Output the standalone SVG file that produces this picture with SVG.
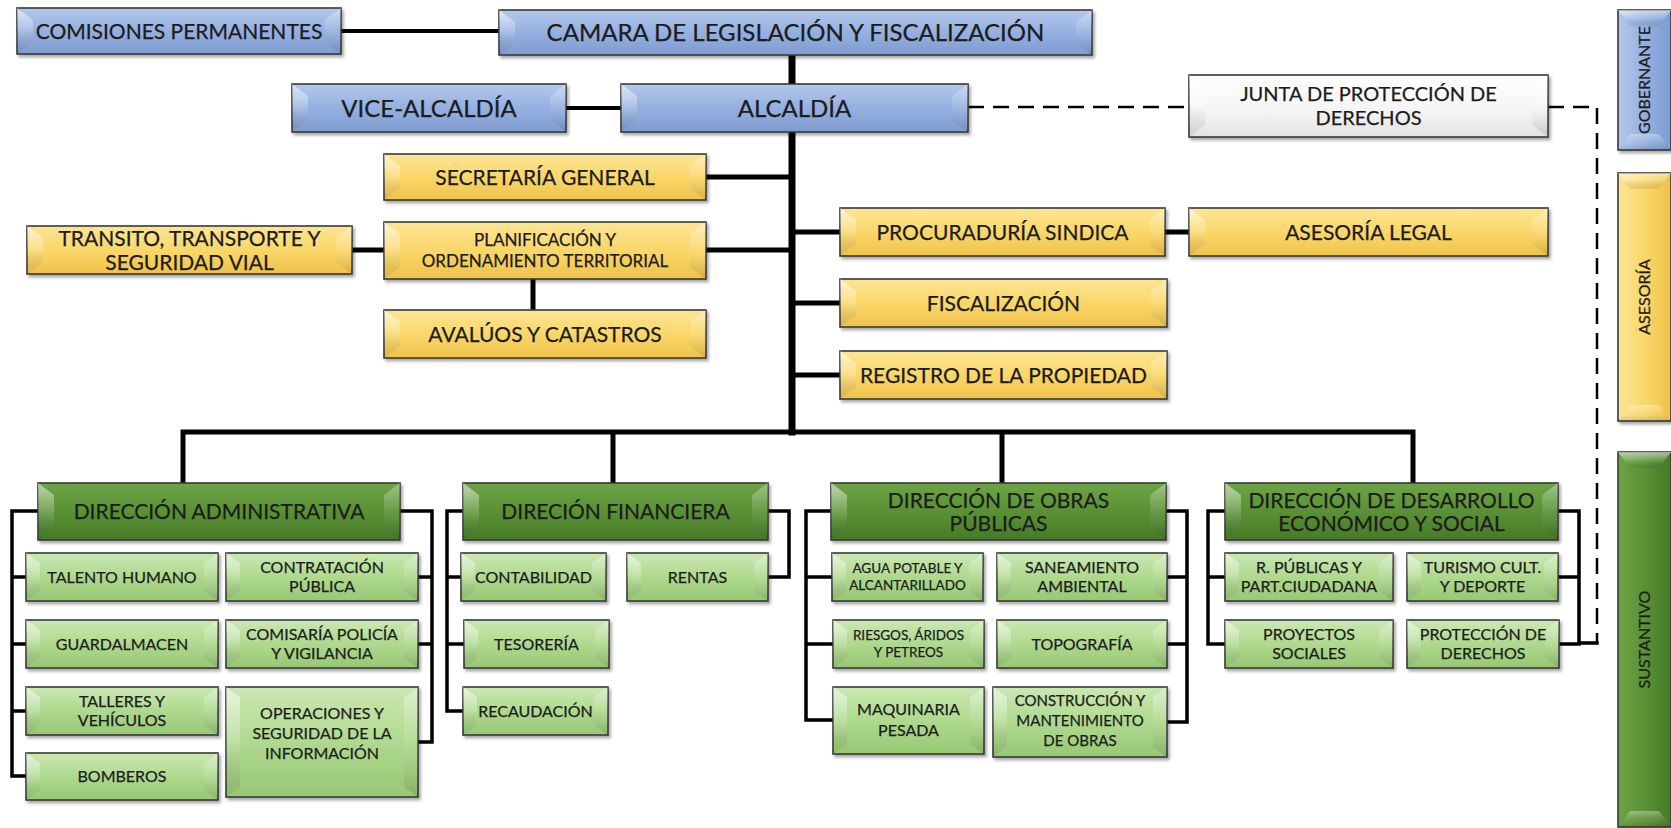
<svg xmlns="http://www.w3.org/2000/svg" width="1671" height="828" viewBox="0 0 1671 828">
<defs>
<linearGradient id="gBlue" x1="0" y1="0" x2="0" y2="1"><stop offset="0" stop-color="#b3c8ec"/><stop offset="0.5" stop-color="#95b0e0"/><stop offset="1" stop-color="#7f9bd0"/></linearGradient>
<linearGradient id="gBlueV" x1="0" y1="0" x2="1" y2="0"><stop offset="0" stop-color="#b3c8ec"/><stop offset="0.5" stop-color="#95b0e0"/><stop offset="1" stop-color="#7f9bd0"/></linearGradient>
<linearGradient id="gYel" x1="0" y1="0" x2="0" y2="1"><stop offset="0" stop-color="#fde595"/><stop offset="0.5" stop-color="#fad76a"/><stop offset="1" stop-color="#efc24a"/></linearGradient>
<linearGradient id="gYelV" x1="0" y1="0" x2="1" y2="0"><stop offset="0" stop-color="#fde595"/><stop offset="0.5" stop-color="#fad76a"/><stop offset="1" stop-color="#efc24a"/></linearGradient>
<linearGradient id="gDk" x1="0" y1="0" x2="0" y2="1"><stop offset="0" stop-color="#6da446"/><stop offset="0.5" stop-color="#5a9135"/><stop offset="1" stop-color="#477a28"/></linearGradient>
<linearGradient id="gDkV" x1="0" y1="0" x2="1" y2="0"><stop offset="0" stop-color="#6da446"/><stop offset="0.5" stop-color="#5a9135"/><stop offset="1" stop-color="#477a28"/></linearGradient>
<linearGradient id="gLt" x1="0" y1="0" x2="0" y2="1"><stop offset="0" stop-color="#cbe8b2"/><stop offset="0.5" stop-color="#afd98e"/><stop offset="1" stop-color="#97c774"/></linearGradient>
<linearGradient id="gWh" x1="0" y1="0" x2="0" y2="1"><stop offset="0" stop-color="#ffffff"/><stop offset="0.6" stop-color="#f4f4f4"/><stop offset="1" stop-color="#e2e2e2"/></linearGradient>
<linearGradient id="gFl" x1="0" y1="0" x2="0" y2="1"><stop offset="0" stop-color="#fff" stop-opacity="0.55"/><stop offset="0.5" stop-color="#fff" stop-opacity="0.18"/><stop offset="1" stop-color="#000" stop-opacity="0.06"/></linearGradient>
<linearGradient id="gFr" x1="0" y1="0" x2="0" y2="1"><stop offset="0" stop-color="#fff" stop-opacity="0.35"/><stop offset="0.5" stop-color="#fff" stop-opacity="0.08"/><stop offset="1" stop-color="#000" stop-opacity="0.12"/></linearGradient>
<filter id="sh" x="-5%" y="-20%" width="112%" height="150%"><feDropShadow dx="2" dy="2.5" stdDeviation="1.5" flood-color="#000" flood-opacity="0.35"/></filter>
</defs>
<style>
.bx{stroke:#3a3a3a;stroke-width:1.6;filter:url(#sh)}
.blue{fill:url(#gBlue)} .blueV{fill:url(#gBlueV)}
.yel{fill:url(#gYel)} .yelV{fill:url(#gYelV)}
.dk{fill:url(#gDk)} .dkV{fill:url(#gDkV)}
.lt{fill:url(#gLt)} .wh{fill:url(#gWh)}
.fl{fill:url(#gFl)} .fr{fill:url(#gFr)}
text{font-family:Lato,"Liberation Sans",sans-serif;fill:#1c1c1c;stroke:#1c1c1c;stroke-width:0.25;text-anchor:middle}
.t24{font-size:24px}.t21{font-size:21px}.t20{font-size:20px}.t17{font-size:17px}.t16{font-size:16px}.t15{font-size:15px}.t13{font-size:13.5px}
.c{fill:none;stroke:#000;stroke-linecap:square}
.k7{stroke-width:7}.k5{stroke-width:5}.k4{stroke-width:4}.k3{stroke-width:3.5}
.dash{fill:none;stroke:#000;stroke-width:2.5;stroke-dasharray:16 9}
</style>
<rect width="1671" height="828" fill="#fff"/>

<g id="connectors">
<path class="c k4" d="M341,31 H499"/>
<path class="c k7" d="M792,55 V84"/>
<path class="c k4" d="M566,108 H621"/>
<path class="c k7" d="M792,132 V432"/>
<path class="c k5" d="M706,177 H792 M706,250 H792 M352,250 H384 M533,279 V310 M792,232 H840 M1165,232 H1189 M792,303 H840 M792,375 H840"/>
<path class="c k5" d="M183,432 H1413 M183,432 V483 M613,432 V483 M1002,432 V483 M1413,432 V483"/>
<path class="c k3" d="M38,511 H12 V776 H26 M12,577 H26 M12,644 H26 M12,711 H26"/>
<path class="c k3" d="M400,511 H432 V742 H418 M418,577 H432 M418,644 H432"/>
<path class="c k3" d="M463,511 H447 V711 H463 M447,577 H461 M447,644 H464"/>
<path class="c k3" d="M768,511 H789 V577 H768"/>
<path class="c k3" d="M831,511 H806 V720 H833 M806,577 H832 M806,644 H833"/>
<path class="c k3" d="M1166,511 H1187 V722 H1167 M1167,577 H1187 M1167,644 H1187"/>
<path class="c k3" d="M1225,511 H1208 V644 H1225 M1208,577 H1225"/>
<path class="c k3" d="M1558,511 H1579 V644 H1559 M1558,577 H1579 M1579,643 H1597"/>
<path class="dash" d="M968,107 H1189"/>
<path class="dash" d="M1548,107 H1597 V643"/>
</g>

<g id="n-comisiones"><rect class="bx blue" x="17" y="8" width="324" height="46"/><path class="fl" d="M17,8 l16,12 v22 l-16,12 z"/><path class="fr" d="M341,8 l-16,12 v22 l16,12 z"/><text class="t21" x="179" y="38.5">COMISIONES PERMANENTES</text></g>
<g id="n-camara"><rect class="bx blue" x="499" y="10" width="593" height="45"/><path class="fl" d="M499,10 l16,12 v21 l-16,12 z"/><path class="fr" d="M1092,10 l-16,12 v21 l16,12 z"/><text class="t24" x="795.5" y="41">CAMARA DE LEGISLACIÓN Y FISCALIZACIÓN</text></g>
<g id="n-vice"><rect class="bx blue" x="292" y="84" width="274" height="48"/><path class="fl" d="M292,84 l16,12 v24 l-16,12 z"/><path class="fr" d="M566,84 l-16,12 v24 l16,12 z"/><text class="t24" x="429" y="116.5">VICE-ALCALDÍA</text></g>
<g id="n-alcaldia"><rect class="bx blue" x="621" y="84" width="347" height="48"/><path class="fl" d="M621,84 l16,12 v24 l-16,12 z"/><path class="fr" d="M968,84 l-16,12 v24 l16,12 z"/><text class="t24" x="794.5" y="116.5">ALCALDÍA</text></g>
<g id="n-junta"><rect class="bx wh" x="1189" y="75" width="359" height="62"/><path class="fl" d="M1189,75 l16,12 v38 l-16,12 z"/><path class="fr" d="M1548,75 l-16,12 v38 l16,12 z"/><text class="t20" x="1368.5" y="101">JUNTA DE PROTECCIÓN DE</text><text class="t20" x="1368.5" y="124.5">DERECHOS</text></g>

<g id="n-gobernante"><rect class="bx blueV" x="1618" y="10" width="53" height="140"/><path class="fl" d="M1618,10 h53 l-12,16 h-29 z"/><path class="fr" d="M1618,150 l12,-16 h29 l12,16 z"/><text class="t16" x="1644.5" y="85.5" transform="rotate(-90 1644.5 80)">GOBERNANTE</text></g>
<g id="n-asesoria"><rect class="bx yelV" x="1618" y="173" width="53" height="248"/><path class="fl" d="M1618,173 h53 l-12,16 h-29 z"/><path class="fr" d="M1618,421 l12,-16 h29 l12,16 z"/><text class="t16" x="1644.5" y="302.5" transform="rotate(-90 1644.5 297)">ASESORÍA</text></g>
<g id="n-sustantivo"><rect class="bx dkV" x="1618" y="452" width="53" height="375"/><path class="fl" d="M1618,452 h53 l-12,16 h-29 z"/><path class="fr" d="M1618,827 l12,-16 h29 l12,16 z"/><text class="t16" x="1644.5" y="645" transform="rotate(-90 1644.5 639.5)">SUSTANTIVO</text></g>

<g id="n-secretaria"><rect class="bx yel" x="384" y="154" width="322" height="46"/><path class="fl" d="M384,154 l16,12 v22 l-16,12 z"/><path class="fr" d="M706,154 l-16,12 v22 l16,12 z"/><text class="t21" x="545" y="184.5">SECRETARÍA GENERAL</text></g>
<g id="n-planificacion"><rect class="bx yel" x="384" y="222" width="322" height="57"/><path class="fl" d="M384,222 l16,12 v33 l-16,12 z"/><path class="fr" d="M706,222 l-16,12 v33 l16,12 z"/><text class="t17" x="545" y="246">PLANIFICACIÓN Y</text><text class="t17" x="545" y="267">ORDENAMIENTO TERRITORIAL</text></g>
<g id="n-transito"><rect class="bx yel" x="27" y="226" width="325" height="48"/><path class="fl" d="M27,226 l16,12 v24 l-16,12 z"/><path class="fr" d="M352,226 l-16,12 v24 l16,12 z"/><text class="t21" x="189.5" y="246">TRANSITO, TRANSPORTE Y</text><text class="t21" x="189.5" y="269.5">SEGURIDAD VIAL</text></g>
<g id="n-avaluos"><rect class="bx yel" x="384" y="310" width="322" height="48"/><path class="fl" d="M384,310 l16,12 v24 l-16,12 z"/><path class="fr" d="M706,310 l-16,12 v24 l16,12 z"/><text class="t21" x="545" y="341.5">AVALÚOS Y CATASTROS</text></g>
<g id="n-procuraduria"><rect class="bx yel" x="840" y="208" width="325" height="48"/><path class="fl" d="M840,208 l16,12 v24 l-16,12 z"/><path class="fr" d="M1165,208 l-16,12 v24 l16,12 z"/><text class="t21" x="1002.5" y="239.5">PROCURADURÍA SINDICA</text></g>
<g id="n-asesoria-legal"><rect class="bx yel" x="1189" y="208" width="359" height="48"/><path class="fl" d="M1189,208 l16,12 v24 l-16,12 z"/><path class="fr" d="M1548,208 l-16,12 v24 l16,12 z"/><text class="t21" x="1368.5" y="239.5">ASESORÍA LEGAL</text></g>
<g id="n-fiscalizacion"><rect class="bx yel" x="840" y="279" width="327" height="48"/><path class="fl" d="M840,279 l16,12 v24 l-16,12 z"/><path class="fr" d="M1167,279 l-16,12 v24 l16,12 z"/><text class="t21" x="1003.5" y="310.5">FISCALIZACIÓN</text></g>
<g id="n-registro"><rect class="bx yel" x="840" y="351" width="327" height="48"/><path class="fl" d="M840,351 l16,12 v24 l-16,12 z"/><path class="fr" d="M1167,351 l-16,12 v24 l16,12 z"/><text class="t21" x="1003.5" y="382.5">REGISTRO DE LA PROPIEDAD</text></g>

<g id="n-dir-admin"><rect class="bx dk" x="38" y="483" width="362" height="57"/><path class="fl" d="M38,483 l16,12 v33 l-16,12 z"/><path class="fr" d="M400,483 l-16,12 v33 l16,12 z"/><text class="t21" x="219" y="519">DIRECCIÓN ADMINISTRATIVA</text></g>
<g id="n-dir-fin"><rect class="bx dk" x="463" y="483" width="305" height="57"/><path class="fl" d="M463,483 l16,12 v33 l-16,12 z"/><path class="fr" d="M768,483 l-16,12 v33 l16,12 z"/><text class="t21" x="615.5" y="519">DIRECIÓN FINANCIERA</text></g>
<g id="n-dir-obras"><rect class="bx dk" x="831" y="483" width="335" height="57"/><path class="fl" d="M831,483 l16,12 v33 l-16,12 z"/><path class="fr" d="M1166,483 l-16,12 v33 l16,12 z"/><text class="t21" x="998.5" y="507.5">DIRECCIÓN DE OBRAS</text><text class="t21" x="998.5" y="530.5">PÚBLICAS</text></g>
<g id="n-dir-desarrollo"><rect class="bx dk" x="1225" y="483" width="333" height="57"/><path class="fl" d="M1225,483 l16,12 v33 l-16,12 z"/><path class="fr" d="M1558,483 l-16,12 v33 l16,12 z"/><text class="t21" x="1391.5" y="507.5">DIRECCIÓN DE DESARROLLO</text><text class="t21" x="1391.5" y="530.5">ECONÓMICO Y SOCIAL</text></g>

<g id="n-talento"><rect class="bx lt" x="26" y="553" width="192" height="48"/><path class="fl" d="M26,553 l14,10 v28 l-14,10 z"/><path class="fr" d="M218,553 l-14,10 v28 l14,10 z"/><text class="t16" x="122" y="582.5">TALENTO HUMANO</text></g>
<g id="n-guardalmacen"><rect class="bx lt" x="26" y="620" width="192" height="48"/><path class="fl" d="M26,620 l14,10 v28 l-14,10 z"/><path class="fr" d="M218,620 l-14,10 v28 l14,10 z"/><text class="t16" x="122" y="649.5">GUARDALMACEN</text></g>
<g id="n-talleres"><rect class="bx lt" x="26" y="687" width="192" height="48"/><path class="fl" d="M26,687 l14,10 v28 l-14,10 z"/><path class="fr" d="M218,687 l-14,10 v28 l14,10 z"/><text class="t16" x="122" y="707">TALLERES Y</text><text class="t16" x="122" y="726">VEHÍCULOS</text></g>
<g id="n-bomberos"><rect class="bx lt" x="26" y="753" width="192" height="47"/><path class="fl" d="M26,753 l14,10 v27 l-14,10 z"/><path class="fr" d="M218,753 l-14,10 v27 l14,10 z"/><text class="t16" x="122" y="782">BOMBEROS</text></g>
<g id="n-contratacion"><rect class="bx lt" x="226" y="553" width="192" height="48"/><path class="fl" d="M226,553 l14,10 v28 l-14,10 z"/><path class="fr" d="M418,553 l-14,10 v28 l14,10 z"/><text class="t16" x="322" y="573">CONTRATACIÓN</text><text class="t16" x="322" y="592">PÚBLICA</text></g>
<g id="n-comisaria"><rect class="bx lt" x="226" y="620" width="192" height="48"/><path class="fl" d="M226,620 l14,10 v28 l-14,10 z"/><path class="fr" d="M418,620 l-14,10 v28 l14,10 z"/><text class="t16" x="322" y="640">COMISARÍA POLICÍA</text><text class="t16" x="322" y="659">Y VIGILANCIA</text></g>
<g id="n-operaciones"><rect class="bx lt" x="226" y="687" width="192" height="110"/><path class="fl" d="M226,687 l14,10 v90 l-14,10 z"/><path class="fr" d="M418,687 l-14,10 v90 l14,10 z"/><text class="t16" x="322" y="719">OPERACIONES Y</text><text class="t16" x="322" y="739">SEGURIDAD DE LA</text><text class="t16" x="322" y="759">INFORMACIÓN</text></g>

<g id="n-contabilidad"><rect class="bx lt" x="461" y="553" width="145" height="48"/><path class="fl" d="M461,553 l14,10 v28 l-14,10 z"/><path class="fr" d="M606,553 l-14,10 v28 l14,10 z"/><text class="t16" x="533.5" y="582.5">CONTABILIDAD</text></g>
<g id="n-tesoreria"><rect class="bx lt" x="464" y="620" width="145" height="48"/><path class="fl" d="M464,620 l14,10 v28 l-14,10 z"/><path class="fr" d="M609,620 l-14,10 v28 l14,10 z"/><text class="t16" x="536.5" y="649.5">TESORERÍA</text></g>
<g id="n-recaudacion"><rect class="bx lt" x="463" y="687" width="145" height="48"/><path class="fl" d="M463,687 l14,10 v28 l-14,10 z"/><path class="fr" d="M608,687 l-14,10 v28 l14,10 z"/><text class="t16" x="535.5" y="716.5">RECAUDACIÓN</text></g>
<g id="n-rentas"><rect class="bx lt" x="627" y="553" width="141" height="48"/><path class="fl" d="M627,553 l14,10 v28 l-14,10 z"/><path class="fr" d="M768,553 l-14,10 v28 l14,10 z"/><text class="t16" x="697.5" y="582.5">RENTAS</text></g>

<g id="n-agua"><rect class="bx lt" x="832" y="553" width="151" height="48"/><path class="fl" d="M832,553 l14,10 v28 l-14,10 z"/><path class="fr" d="M983,553 l-14,10 v28 l14,10 z"/><text class="t13" x="907.5" y="573">AGUA POTABLE Y</text><text class="t13" x="907.5" y="590">ALCANTARILLADO</text></g>
<g id="n-riesgos"><rect class="bx lt" x="833" y="620" width="151" height="48"/><path class="fl" d="M833,620 l14,10 v28 l-14,10 z"/><path class="fr" d="M984,620 l-14,10 v28 l14,10 z"/><text class="t13" x="908.5" y="640">RIESGOS, ÁRIDOS</text><text class="t13" x="908.5" y="657">Y PETREOS</text></g>
<g id="n-maquinaria"><rect class="bx lt" x="833" y="687" width="151" height="67"/><path class="fl" d="M833,687 l14,10 v47 l-14,10 z"/><path class="fr" d="M984,687 l-14,10 v47 l14,10 z"/><text class="t16" x="908.5" y="715">MAQUINARIA</text><text class="t16" x="908.5" y="736">PESADA</text></g>
<g id="n-saneamiento"><rect class="bx lt" x="997" y="553" width="170" height="48"/><path class="fl" d="M997,553 l14,10 v28 l-14,10 z"/><path class="fr" d="M1167,553 l-14,10 v28 l14,10 z"/><text class="t16" x="1082" y="573">SANEAMIENTO</text><text class="t16" x="1082" y="592">AMBIENTAL</text></g>
<g id="n-topografia"><rect class="bx lt" x="997" y="620" width="170" height="48"/><path class="fl" d="M997,620 l14,10 v28 l-14,10 z"/><path class="fr" d="M1167,620 l-14,10 v28 l14,10 z"/><text class="t16" x="1082" y="649.5">TOPOGRAFÍA</text></g>
<g id="n-construccion"><rect class="bx lt" x="993" y="687" width="174" height="70"/><path class="fl" d="M993,687 l14,10 v50 l-14,10 z"/><path class="fr" d="M1167,687 l-14,10 v50 l14,10 z"/><text class="t15" x="1080" y="706">CONSTRUCCIÓN Y</text><text class="t15" x="1080" y="726">MANTENIMIENTO</text><text class="t15" x="1080" y="746">DE OBRAS</text></g>

<g id="n-rpublicas"><rect class="bx lt" x="1225" y="553" width="168" height="48"/><path class="fl" d="M1225,553 l14,10 v28 l-14,10 z"/><path class="fr" d="M1393,553 l-14,10 v28 l14,10 z"/><text class="t16" x="1309" y="573">R. PÚBLICAS Y</text><text class="t16" x="1309" y="592">PART.CIUDADANA</text></g>
<g id="n-proyectos"><rect class="bx lt" x="1225" y="620" width="168" height="48"/><path class="fl" d="M1225,620 l14,10 v28 l-14,10 z"/><path class="fr" d="M1393,620 l-14,10 v28 l14,10 z"/><text class="t16" x="1309" y="640">PROYECTOS</text><text class="t16" x="1309" y="659">SOCIALES</text></g>
<g id="n-turismo"><rect class="bx lt" x="1407" y="553" width="151" height="48"/><path class="fl" d="M1407,553 l14,10 v28 l-14,10 z"/><path class="fr" d="M1558,553 l-14,10 v28 l14,10 z"/><text class="t16" x="1482.5" y="573">TURISMO CULT.</text><text class="t16" x="1482.5" y="592">Y DEPORTE</text></g>
<g id="n-proteccion"><rect class="bx lt" x="1407" y="620" width="152" height="48"/><path class="fl" d="M1407,620 l14,10 v28 l-14,10 z"/><path class="fr" d="M1559,620 l-14,10 v28 l14,10 z"/><text class="t16" x="1483" y="640">PROTECCIÓN DE</text><text class="t16" x="1483" y="659">DERECHOS</text></g>
</svg>
